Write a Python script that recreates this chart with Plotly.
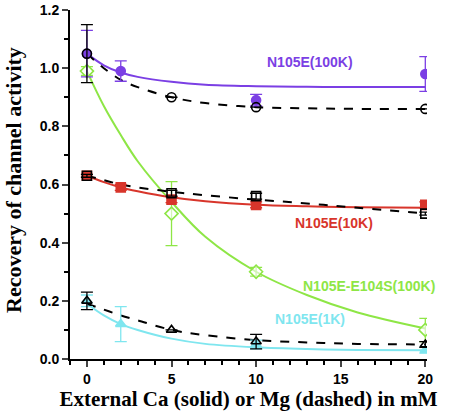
import plotly.graph_objects as go

# ---- measured points ----
x_p100 = [0, 2, 10, 20]; y_p100 = [1.05, 0.99, 0.89, 0.98]; e_p100 = [0.08, 0.035, 0.02, 0.06]
x_m100 = [0, 5, 10, 20]; y_m100 = [1.05, 0.90, 0.866, 0.86]; e_m100 = [0.10, 0.0, 0.0, 0.0]
x_r10 = [0, 2, 5, 10, 20]; y_r10 = [0.63, 0.59, 0.548, 0.53, 0.53]; e_r10 = [0.005, 0.01, 0.01, 0.01, 0.01]
x_m10 = [0, 5, 10, 20]; y_m10 = [0.63, 0.57, 0.56, 0.50]; e_m10 = [0.005, 0.01, 0.01, 0.005]
x_g = [0, 5, 10, 20]; y_g = [0.99, 0.50, 0.30, 0.10]; e_g = [0.015, 0.11, 0.015, 0.04]
x_c1 = [0, 2, 10, 20]; y_c1 = [0.20, 0.12, 0.05, 0.03]; e_c1 = [0.02, 0.06, 0.015, 0.01]
x_m1 = [0, 5, 10, 20]; y_m1 = [0.20, 0.10, 0.06, 0.05]; e_m1 = [0.03, 0.0, 0.025, 0.01]

# ---- fitted curves ----
cx = [0, 1, 2, 3, 5, 7, 10, 13, 16, 20]
cy_p100 = [1.05, 1.01, 0.985, 0.97, 0.953, 0.943, 0.938, 0.936, 0.935, 0.935]
cy_m100 = [1.05, 1.00, 0.96, 0.935, 0.90, 0.88, 0.866, 0.862, 0.86, 0.86]
cy_r10 = [0.63, 0.608, 0.59, 0.577, 0.556, 0.542, 0.53, 0.525, 0.522, 0.52]
cy_m10 = [0.63, 0.615, 0.60, 0.59, 0.575, 0.563, 0.548, 0.535, 0.52, 0.50]
cy_g = [0.99, 0.87, 0.77, 0.68, 0.54, 0.42, 0.30, 0.22, 0.16, 0.105]
cy_c1 = [0.19, 0.15, 0.12, 0.10, 0.07, 0.052, 0.04, 0.034, 0.031, 0.03]
cy_m1 = [0.19, 0.17, 0.15, 0.133, 0.10, 0.082, 0.065, 0.057, 0.052, 0.05]

PURPLE = "#7b3fe4"
RED = "#d8352b"
GREEN = "#8ee646"
CYAN = "#7fe6ef"

fig = go.Figure()

def curve(y, color, dash):
    fig.add_trace(go.Scatter(x=cx, y=y, mode="lines", line=dict(color=color, width=2, dash=dash, shape="spline"),
                             showlegend=False, hoverinfo="skip"))

def pts(x, y, e, color, symbol, fill, size=9):
    fig.add_trace(go.Scatter(x=x, y=y, mode="markers",
                             marker=dict(symbol=symbol, size=size, color=fill, line=dict(color=color, width=1.6)),
                             error_y=dict(type="data", array=e, color=color, thickness=1.3, width=6),
                             showlegend=False))

curve(cy_g, GREEN, "solid")
curve(cy_p100, PURPLE, "solid")
curve(cy_r10, RED, "solid")
curve(cy_c1, CYAN, "solid")
curve(cy_m100, "black", "dash")
curve(cy_m10, "black", "dash")
curve(cy_m1, "black", "dash")

pts(x_g, y_g, e_g, GREEN, "diamond", "rgba(255,255,255,0.6)", 10)
pts(x_p100, y_p100, e_p100, PURPLE, "circle", PURPLE)
pts(x_r10, y_r10, e_r10, RED, "square", RED)
pts(x_c1, y_c1, e_c1, CYAN, "triangle-up", CYAN)
pts(x_m100, y_m100, e_m100, "black", "circle-open", "black")
pts(x_m10, y_m10, e_m10, "black", "square-open", "black")
pts(x_m1, y_m1, e_m1, "black", "triangle-up-open", "black")

labels = [("N105E(100K)", 13.2, 1.02, PURPLE), ("N105E(10K)", 14.6, 0.467, RED),
          ("N105E-E104S(100K)", 16.7, 0.251, GREEN), ("N105E(1K)", 13.2, 0.138, CYAN)]
for t, x, y, c in labels:
    fig.add_annotation(x=x, y=y, text=t, showarrow=False,
                       font=dict(family="Arial", size=14, color=c, weight="bold"))

fig.add_annotation(xref="paper", yref="paper", x=-0.157, y=0.513, text="Recovery of channel activity",
                   textangle=-90, showarrow=False, xanchor="center", yanchor="middle",
                   font=dict(family="Liberation Serif", size=22, color="black", weight="bold"))

fig.update_layout(
    width=450, height=416, margin=dict(l=70, r=23, t=10, b=57, autoexpand=False),
    plot_bgcolor="white", paper_bgcolor="white",
    xaxis=dict(range=[-1.0, 20.1], tickvals=[0, 5, 10, 15, 20], showgrid=False, zeroline=False,
               automargin=False,
               showline=True, linecolor="black", linewidth=2, ticks="outside", ticklen=6, tickwidth=2,
               minor=dict(dtick=1, tick0=0, ticks="outside", ticklen=4, tickwidth=1.5, tickcolor="black"),
               tickfont=dict(family="Arial", size=14, color="black", weight="bold"),
               title=dict(text="External Ca (solid) or Mg (dashed) in mM", standoff=4,
                          font=dict(family="Liberation Serif", size=21, color="black", weight="bold"))),
    yaxis=dict(range=[0, 1.2], tickvals=[0, 0.2, 0.4, 0.6, 0.8, 1.0, 1.2],
               ticktext=["0.0", "0.2", "0.4", "0.6", "0.8", "1.0", "1.2"], showgrid=False, zeroline=False,
               automargin=False,
               showline=True, linecolor="black", linewidth=2, ticks="outside", ticklen=6, tickwidth=2,
               minor=dict(dtick=0.1, ticks="outside", ticklen=4, tickwidth=1.5, tickcolor="black"),
               tickfont=dict(family="Arial", size=14, color="black", weight="bold")),
)

fig.write_html("out.html", config={"displayModeBar": False},
               post_script="document.body.style.margin='0';")
